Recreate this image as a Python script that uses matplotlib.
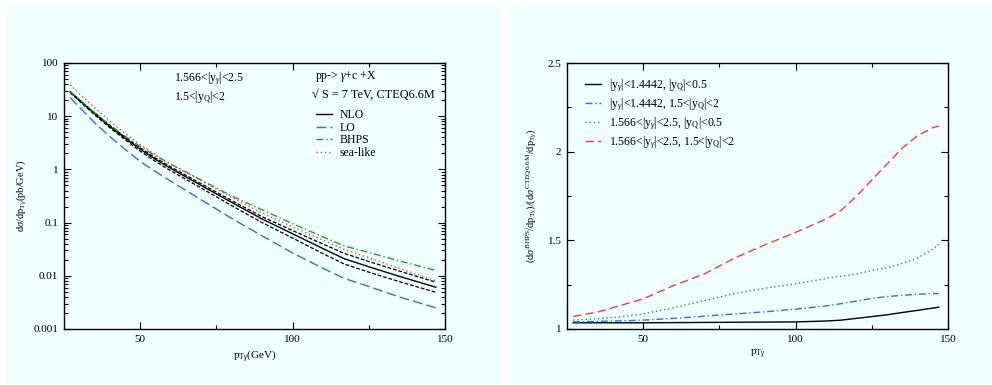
import matplotlib
matplotlib.use("Agg")
import matplotlib.pyplot as plt
from matplotlib.patches import Rectangle
from matplotlib.ticker import LogLocator, NullFormatter

plt.rcParams["font.family"] = ["Liberation Serif", "DejaVu Serif"]
plt.rcParams["mathtext.fontset"] = "custom"
plt.rcParams["mathtext.rm"] = "Liberation Serif"
plt.rcParams["mathtext.it"] = "Liberation Serif:italic"

BG = "#f0ffff"

# left panel: cross section vs pT (pb/GeV)
pt = [27, 30, 35, 40, 45, 50, 55, 60, 70, 80, 90, 100, 110, 117, 125, 135, 147]
nlo = [28.6, 20.0, 11.2, 6.46, 3.89, 2.40, 1.55, 1.05, 0.50, 0.24, 0.117,
       0.0617, 0.0324, 0.0209, 0.0148, 0.00977, 0.0061]
nlo_up = [29.2, 20.4, 11.6, 6.76, 4.07, 2.54, 1.64, 1.12, 0.537, 0.26, 0.129,
          0.0708, 0.0394, 0.0263, 0.0186, 0.0123, 0.00759]
nlo_dn = [27.9, 19.3, 10.7, 6.10, 3.63, 2.21, 1.41, 0.944, 0.447, 0.209, 0.100,
          0.0513, 0.026, 0.0166, 0.0117, 0.00776, 0.0049]
lo = [22.4, 14.8, 7.59, 4.17, 2.40, 1.41, 0.912, 0.603, 0.269, 0.120, 0.0562,
      0.0269, 0.0138, 0.0089, 0.0063, 0.0040, 0.0025]
bhps = [29.2, 20.7, 11.7, 6.84, 4.22, 2.69, 1.80, 1.26, 0.631, 0.316, 0.174,
        0.0955, 0.0537, 0.0363, 0.0275, 0.0191, 0.0126]
sea = [39.0, 26.6, 14.5, 8.13, 4.79, 2.92, 1.88, 1.27, 0.617, 0.299, 0.151,
       0.0832, 0.0468, 0.0313, 0.0219, 0.0138, 0.00804]

# right panel: BHPS / CTEQ6.6M ratios
pt_r = [27, 30, 35, 40, 45, 50, 60, 70, 80, 90, 100, 110, 115, 120, 125, 130,
        135, 140, 145, 147]
r_central = [1.035, 1.035, 1.035, 1.035, 1.035, 1.035, 1.036, 1.037, 1.038, 1.039,
             1.04, 1.045, 1.05, 1.06, 1.07, 1.08, 1.093, 1.105, 1.118, 1.123]
r_fwd_q = [1.04, 1.041, 1.043, 1.045, 1.047, 1.05, 1.06, 1.072, 1.085, 1.097,
           1.112, 1.13, 1.143, 1.158, 1.172, 1.183, 1.19, 1.196, 1.2, 1.2]
r_fwd_g = [1.05, 1.053, 1.058, 1.065, 1.074, 1.085, 1.12, 1.16, 1.20, 1.23,
           1.255, 1.285, 1.298, 1.31, 1.33, 1.345, 1.37, 1.40, 1.45, 1.48]
r_fwd_both = [1.07, 1.08, 1.095, 1.12, 1.145, 1.17, 1.245, 1.31, 1.40, 1.475,
              1.545, 1.62, 1.67, 1.75, 1.84, 1.93, 2.02, 2.09, 2.135, 2.145]

BLUE = "#2f6cff"
GREEN = "#23a023"
RED = "#ff3b3b"

fig = plt.figure(figsize=(9.92, 3.85), dpi=100)
fig.patch.set_facecolor("white")
fig.patches.append(Rectangle((7 / 992, 0), 494 / 992, 380 / 385,
                             transform=fig.transFigure, color=BG, zorder=-10))
fig.patches.append(Rectangle((509 / 992, 0), 483 / 992, 380 / 385,
                             transform=fig.transFigure, color=BG, zorder=-10))

axl = fig.add_axes([64 / 992, 56 / 385, 381 / 992, 266 / 385])
axr = fig.add_axes([567 / 992, 56 / 385, 381 / 992, 266 / 385])

for ax in (axl, axr):
    ax.set_facecolor(BG)
    ax.set_xlim(25, 150)
    ax.set_xticks([50, 100, 150])
    ax.set_xticks([75, 125], minor=True)
    ax.tick_params(which="both", direction="in", top=True, right=True,
                   labelsize=8, pad=4)
    ax.tick_params(which="major", length=5, width=0.8)
    ax.tick_params(which="minor", length=3, width=0.8)
    for s in ax.spines.values():
        s.set_linewidth(1.0)

# left
axl.set_yscale("log")
axl.set_ylim(0.001, 100)
axl.set_yticks([0.001, 0.01, 0.1, 1, 10, 100])
axl.set_yticklabels(["0.001", "0.01", "0.1", "1", "10", "100"])
axl.yaxis.set_minor_locator(LogLocator(base=10, subs=range(2, 10), numticks=20))
axl.yaxis.set_minor_formatter(NullFormatter())
axl.plot(pt, nlo, color="black", lw=1.0, label="NLO")
axl.plot(pt, nlo_up, color="black", lw=0.9, dashes=(3, 1.5))
axl.plot(pt, nlo_dn, color="black", lw=0.9, dashes=(3, 1.5))
axl.plot(pt, lo, color=BLUE, lw=1.0, dashes=(7, 3), label="LO")
axl.plot(pt, bhps, color=GREEN, lw=1.0, dashes=(5, 2, 1, 2), label="BHPS")
axl.plot(pt, sea, color=RED, lw=1.0, dashes=(1, 2), label="sea-like")
axl.set_xlabel(r"p$_{\mathrm{T}\gamma}$(GeV)", fontsize=8, labelpad=3)
axl.set_ylabel(r"d$\sigma$/dp$_{\mathrm{T}\gamma}$(pb/GeV)", fontsize=7.5, labelpad=4)
axl.text(0.29, 0.93, r"1.566<|y$_\gamma$|<2.5", transform=axl.transAxes, fontsize=8.5)
axl.text(0.29, 0.86, r"1.5<|y$_\mathrm{Q}$|<2", transform=axl.transAxes, fontsize=8.5)
axl.text(0.66, 0.94, r"pp-> $\gamma$+c +X", transform=axl.transAxes, fontsize=8.5)
axl.text(0.65, 0.865, "\u221a S = 7 TeV, CTEQ6.6M", transform=axl.transAxes,
         fontsize=8.8)
axl.legend(loc="upper left", bbox_to_anchor=(0.64, 0.858), frameon=False,
           fontsize=8.5, handlelength=1.35, handletextpad=0.6, labelspacing=0.06,
           borderpad=0.2)

# right
axr.set_ylim(1, 2.5)
axr.set_yticks([1, 1.5, 2, 2.5])
axr.set_yticklabels(["1", "1.5", "2", "2.5"])
axr.set_yticks([1.25, 1.75, 2.25], minor=True)
axr.plot(pt_r, r_central, color="black", lw=1.0,
         label=r"|y$_\gamma$|<1.4442, |y$_\mathrm{Q}$|<0.5")
axr.plot(pt_r, r_fwd_q, color=BLUE, lw=1.0, dashes=(5, 2, 1, 2),
         label=r"|y$_\gamma$|<1.4442, 1.5<|y$_\mathrm{Q}$|<2")
axr.plot(pt_r, r_fwd_g, color=GREEN, lw=1.0, dashes=(1, 2),
         label=r"1.566<|y$_\gamma$|<2.5, |y$_\mathrm{Q}$|<0.5")
axr.plot(pt_r, r_fwd_both, color=RED, lw=1.0, dashes=(6, 3),
         label=r"1.566<|y$_\gamma$|<2.5, 1.5<|y$_\mathrm{Q}$|<2")
axr.set_xlabel(r"p$_{\mathrm{T}\gamma}$", fontsize=8, labelpad=3)
axr.set_ylabel(r"(d$\sigma^{\mathrm{BHPS}}$/dp$_{\mathrm{T}\gamma}$)/(d$\sigma^{\mathrm{CTEQ6.6M}}$/dp$_{\mathrm{T}\gamma}$)",
               fontsize=7.5, labelpad=6)
axr.legend(loc="upper left", bbox_to_anchor=(0.02, 0.985), frameon=False,
           fontsize=8.5, handlelength=1.3, handletextpad=0.7, labelspacing=0.18)

fig.savefig("out.png", dpi=100, facecolor=fig.get_facecolor())
